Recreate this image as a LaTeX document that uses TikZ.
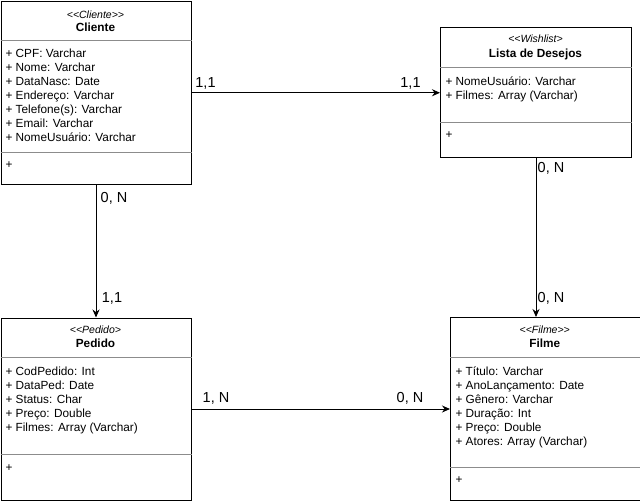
\documentclass[tikz,border=0pt]{standalone}
\usepackage{fontspec}
\setmainfont{Liberation Sans}
\usetikzlibrary{arrows.meta,positioning}

\begin{document}
\begin{tikzpicture}[x=1pt, y=-1pt, >={Stealth[length=8pt,width=7pt]}, line width=1pt]
    \tikzstyle{cls}=[draw, anchor=north west, inner sep=0pt, fill=white]
    \tikzstyle{ster}=[anchor=base, inner sep=0pt, font=\fontsize{10.5}{12}\selectfont\itshape]
    \tikzstyle{ttl}=[anchor=base, inner sep=0pt, font=\fontsize{11.8}{14}\selectfont\bfseries]
    \tikzstyle{attr}=[anchor=base west, inner sep=0pt, align=left, font=\fontsize{11.8}{14.1}\selectfont]
    \tikzstyle{div}=[draw=black!45, line width=0.8pt]
    \tikzstyle{card}=[anchor=base, inner sep=0pt, font=\fontsize{14.5}{16}\selectfont]

    \useasboundingbox (0,0) rectangle (640,501);

    \node[cls, minimum width=190pt, minimum height=182.5pt] (cliente) at (0.5,1) {};
    \node[ster] (clienteS) at (95.5,18) {<{}<Cliente>{}>};
    \node[ttl] (clienteT) at (95.5,31.5) {Cliente};
    \draw[div] (cliente.west |- 0,40) -- (cliente.east |- 0,40);
    \node[attr] (clienteA) at (5,141.6) {+ CPF: Varchar\\ + Nome: Varchar\\ + DataNasc: Date\\ + Endereço: Varchar\\ + Telefone(s): Varchar\\ + Email: Varchar\\ + NomeUsuário: Varchar};
    \draw[div] (cliente.west |- 0,152) -- (cliente.east |- 0,152);
    \node[attr] (clienteM) at (5,168.5) {+};

    \node[cls, minimum width=191pt, minimum height=130pt] (wish) at (440,27) {};
    \node[ster] (wishS) at (535.5,42) {<{}<Wishlist>};
    \node[ttl] (wishT) at (535.5,57) {Lista de Desejos};
    \draw[div] (wish.west |- 0,67) -- (wish.east |- 0,67);
    \node[attr] (wishA) at (445,99.1) {+ NomeUsuário: Varchar\\ + Filmes: Array (Varchar)};
    \draw[div] (wish.west |- 0,122) -- (wish.east |- 0,122);
    \node[attr] (wishM) at (445,138.5) {+};

    \node[cls, minimum width=190pt, minimum height=182pt] (pedido) at (0.5,317.5) {};
    \node[ster] (pedidoS) at (95.5,333) {<{}<Pedido>};
    \node[ttl] (pedidoT) at (95.5,347.5) {Pedido};
    \draw[div] (pedido.west |- 0,357) -- (pedido.east |- 0,357);
    \node[attr] (pedidoA) at (5,431.4) {+ CodPedido: Int\\ + DataPed: Date\\ + Status: Char\\ + Preço: Double\\ + Filmes: Array (Varchar)};
    \draw[div] (pedido.west |- 0,454) -- (pedido.east |- 0,454);
    \node[attr] (pedidoM) at (5,471) {+};

    \node[cls, minimum width=189.5pt, minimum height=182.5pt] (filme) at (450,317) {};
    \node[ster] (filmeS) at (544.75,333) {<{}<Filme>{}>};
    \node[ttl] (filmeT) at (544.75,347.5) {Filme};
    \draw[div] (filme.west |- 0,357) -- (filme.east |- 0,357);
    \node[attr] (filmeA) at (455,445.5) {+ Título: Varchar\\ + AnoLançamento: Date\\ + Gênero: Varchar\\ + Duração: Int\\ + Preço: Double\\ + Atores: Array (Varchar)};
    \draw[div] (filme.west |- 0,467) -- (filme.east |- 0,467);
    \node[attr] (filmeM) at (455,483) {+};

    \draw[->] (cliente.east) -- (cliente.east -| wish.west);
    \draw[->] (cliente.south) -- (pedido.north);
    \draw[->] (wish.south) -- (wish.south |- filme.north);
    \draw[->] (pedido.east) -- (pedido.east -| filme.west);

    \node[card] (c1) at (205.5,87) {1,1};
    \node[card] (c2) at (410.5,87) {1,1};
    \node[card] (c3) at (114,202) {0, N};
    \node[card] (c4) at (112,302) {1,1};
    \node[card] (c5) at (551,172) {0, N};
    \node[card] (c6) at (551,302) {0, N};
    \node[card] (c7) at (216,402) {1, N};
    \node[card] (c8) at (410,402) {0, N};
  \end{tikzpicture}
\end{document}
